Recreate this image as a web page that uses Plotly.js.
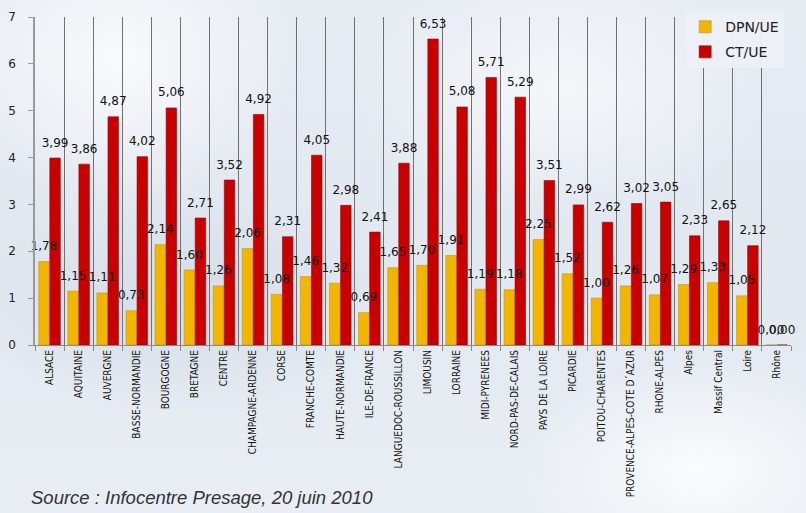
<!DOCTYPE html>
<html>
<head>
<meta charset="utf-8">
<script src="https://cdn.plot.ly/plotly-3.0.1.min.js"></script>
<style>
  html, body { margin: 0; padding: 0; }
  body {
    width: 806px; height: 513px; overflow: hidden;
    background:
      radial-gradient(ellipse 260px 200px at 120px 60px, rgba(255,255,255,0.75), rgba(255,255,255,0) 70%),
      radial-gradient(ellipse 300px 180px at 560px 90px, rgba(255,255,255,0.6), rgba(255,255,255,0) 70%),
      radial-gradient(ellipse 260px 160px at 700px 470px, rgba(255,255,255,0.8), rgba(255,255,255,0) 70%),
      radial-gradient(ellipse 300px 160px at 180px 300px, rgba(200,212,228,0.6), rgba(200,212,228,0) 70%),
      linear-gradient(180deg, #e7ecf3 0%, #e2e8f0 50%, #e9eef4 100%);
  }
  #chart { width: 806px; height: 513px; }
</style>
</head>
<body>
<div id="chart"></div>
<script>
const regions = ["ALSACE", "AQUITAINE", "AUVERGNE", "BASSE-NORMANDIE", "BOURGOGNE", "BRETAGNE", "CENTRE", "CHAMPAGNE-ARDENNE", "CORSE", "FRANCHE-COMTE", "HAUTE-NORMANDIE", "ILE-DE-FRANCE", "LANGUEDOC-ROUSSILLON", "LIMOUSIN", "LORRAINE", "MIDI-PYRENEES", "NORD-PAS-DE-CALAIS", "PAYS DE LA LOIRE", "PICARDIE", "POITOU-CHARENTES", "PROVENCE-ALPES-COTE D´AZUR", "RHONE-ALPES", "Alpes", "Massif Central", "Loire", "Rhône"];
const dpnUE = [1.78, 1.15, 1.11, 0.73, 2.14, 1.60, 1.26, 2.06, 1.08, 1.46, 1.32, 0.69, 1.65, 1.70, 1.91, 1.19, 1.18, 2.25, 1.52, 1.00, 1.26, 1.07, 1.29, 1.33, 1.05, 0.00];
const ctUE = [3.99, 3.86, 4.87, 4.02, 5.06, 2.71, 3.52, 4.92, 2.31, 4.05, 2.98, 2.41, 3.88, 6.53, 5.08, 5.71, 5.29, 3.51, 2.99, 2.62, 3.02, 3.05, 2.33, 2.65, 2.12, 0.00];
const yTicks = [0, 1, 2, 3, 4, 5, 6, 7];
const sourceText = "Source : Infocentre Presage, 20 juin 2010";

const labelFont = { family: "DejaVu Sans", size: 12, color: "#111" };

const traces = [
  {
    type: "bar", name: "DPN/UE", x: regions, y: dpnUE, legendgroup: "a", offsetgroup: "a",
    marker: { color: "#f2b600", line: { color: "#c99400", width: 0.6 } },
    hoverinfo: "x+y"
  },
  {
    type: "bar", name: "CT/UE", x: regions, y: ctUE, legendgroup: "b", offsetgroup: "b",
    marker: { color: "#c80000", line: { color: "#9a0000", width: 0.6 } },
    hoverinfo: "x+y"
  },
  {
    type: "scatter", mode: "markers+text", x: regions, y: dpnUE, offsetgroup: "a",
    marker: { size: 12, opacity: 0 },
    texttemplate: "%{y:.2f}", textposition: "top center", textfont: labelFont,
    showlegend: false, hoverinfo: "skip", cliponaxis: false
  },
  {
    type: "scatter", mode: "markers+text", x: regions, y: ctUE, offsetgroup: "b",
    marker: { size: 12, opacity: 0 },
    texttemplate: "%{y:.2f}", textposition: "top center", textfont: labelFont,
    showlegend: false, hoverinfo: "skip", cliponaxis: false
  }
];

const layout = {
  width: 806, height: 513,
  margin: { l: 35, r: 15, t: 16, b: 168 },
  paper_bgcolor: "rgba(0,0,0,0)",
  plot_bgcolor: "rgba(0,0,0,0)",
  separators: ",.",
  barmode: "group",
  bargap: 0.24,
  bargroupgap: 0.05,
  scattermode: "group",
  scattergap: 0.24,
  showlegend: true,
  legend: {
    x: 0.86, xanchor: "left", y: 1.015, yanchor: "top",
    bgcolor: "rgba(236,240,246,0.97)",
    font: { family: "DejaVu Sans", size: 14, color: "#222" },
    itemwidth: 30, tracegroupgap: 4,
    traceorder: "grouped"
  },
  xaxis: {
    type: "category",
    tickangle: -90,
    tickson: "boundaries",
    showgrid: true, gridcolor: "#707070", gridwidth: 1,
    showline: true, linecolor: "#8a8a8a", linewidth: 1,
    ticks: "outside", ticklen: 5, tickcolor: "#8a8a8a",
    tickfont: { family: "DejaVu Sans Condensed, DejaVu Sans", size: 10, color: "#111" },
    automargin: false
  },
  yaxis: {
    range: [0, 7],
    tickvals: yTicks,
    showgrid: false, zeroline: false,
    showline: true, linecolor: "#9a9a9a", linewidth: 1.5,
    ticks: "outside", ticklen: 5, tickcolor: "#9a9a9a",
    ticklabelstandoff: 10,
    tickfont: { family: "DejaVu Sans", size: 12, color: "#222" },
    automargin: false
  },
  annotations: [
    {
      text: sourceText, xref: "paper", yref: "paper",
      x: -0.008, xanchor: "left", y: -0.465, yanchor: "middle",
      showarrow: false,
      font: { family: "Liberation Sans", size: 18.5, color: "#333", style: "italic" }
    }
  ]
};

Plotly.newPlot("chart", traces, layout, { displayModeBar: false, responsive: false });
</script>
</body>
</html>
